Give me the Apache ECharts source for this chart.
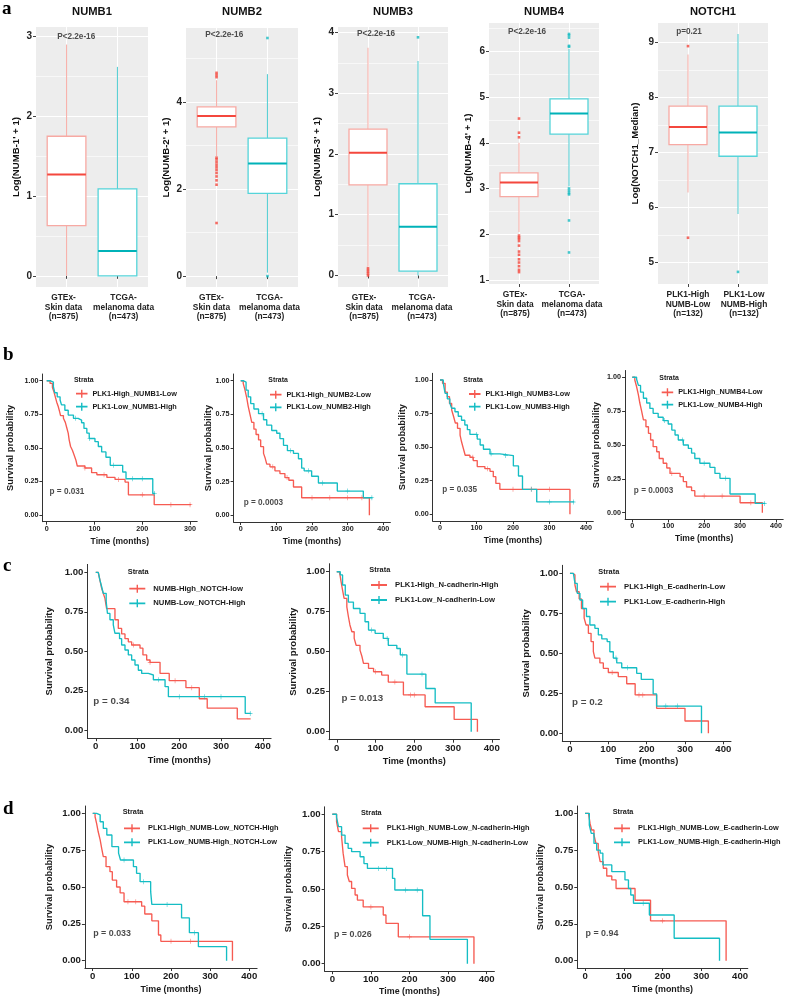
<!DOCTYPE html>
<html><head><meta charset="utf-8">
<script src="https://cdn.jsdelivr.net/npm/echarts@6/dist/echarts.min.js"></script>
<style>html,body{margin:0;padding:0;background:#fff}#c{width:787px;height:999px}</style>
</head><body><div id="c"></div>
<script>
// ================= DATA =================
// Row a: box plots  [lower whisker, Q1, median, Q3, upper whisker]
const groupsGTEx = ['GTEx-\nSkin data\n(n=875)', 'TCGA-\nmelanoma data\n(n=473)'];
const groupsNotch = ['PLK1-High\nNUMB-Low\n(n=132)', 'PLK1-Low\nNUMB-High\n(n=132)'];
const boxTitles = ['NUMB1', 'NUMB2', 'NUMB3', 'NUMB4', 'NOTCH1'];
const boxYNames = ["Log(NUMB-1' + 1)", "Log(NUMB-2' + 1)", "Log(NUMB-3' + 1)", "Log(NUMB-4' + 1)", 'Log(NOTCH1_Median)'];
const boxPText = ['P<2.2e-16', 'P<2.2e-16', 'P<2.2e-16', 'P<2.2e-16', 'p=0.21'];
const numb1Box = [[0, 0.63, 1.27, 1.75, 2.9], [0, 0, 0.31, 1.09, 2.62]];
const numb2Box = [[2.75, 3.43, 3.68, 3.89, 4.5], [0.08, 1.90, 2.59, 3.17, 4.64]];
const numb3Box = [[0.15, 1.49, 2.02, 2.41, 3.75], [0, 0.07, 0.80, 1.51, 3.53]];
const numb4Box = [[2.05, 2.82, 3.13, 3.34, 4.0], [3.05, 4.19, 4.64, 4.96, 6.05]];
const notch1Box = [[6.27, 7.14, 7.46, 7.84, 8.78], [5.88, 6.93, 7.36, 7.84, 9.15]];
const numb1Out = [[], []];
const numb2Out = [[4.57, 4.62, 4.67, 2.72, 2.68, 2.62, 2.56, 2.5, 2.44, 2.37, 2.29, 2.2, 2.1, 1.22], [0, 5.47]];
const numb3Out = [[0, 0.03, 0.06, 0.09, 0.12], [3.92]];
const numb4Out = [[4.12, 4.22, 4.53, 1.97, 1.93, 1.9, 1.85, 1.75, 1.62, 1.55, 1.45, 1.38, 1.3, 1.22, 1.17],
                  [6.1, 6.12, 6.3, 6.35, 6.38, 3.0, 2.95, 2.9, 2.87, 2.3, 1.6]];
const notch1Out = [[8.93, 5.45], [4.83]];
const numb1Ticks = [0, 1, 2, 3];
const numb2Ticks = [0, 2, 4];
const numb3Ticks = [0, 1, 2, 3, 4];
const numb4Ticks = [1, 2, 3, 4, 5, 6];
const notch1Ticks = [5, 6, 7, 8, 9];

// Rows b-d: Kaplan-Meier curves  [time (months), survival probability]
const kmTimeTicks300 = [0, 100, 200, 300];
const kmTimeTicks400 = [0, 100, 200, 300, 400];
const kmProbTicks = [0, 0.25, 0.5, 0.75, 1];

const b1Strata = ['PLK1-High_NUMB1-Low', 'PLK1-Low_NUMB1-High'];
const b2Strata = ['PLK1-High_NUMB2-Low', 'PLK1-Low_NUMB2-High'];
const b3Strata = ['PLK1-High_NUMB3-Low', 'PLK1-Low_NUMB3-High'];
const b4Strata = ['PLK1-High_NUMB4-Low', 'PLK1-Low_NUMB4-High'];
const c1Strata = ['NUMB-High_NOTCH-low', 'NUMB-Low_NOTCH-High'];
const c2Strata = ['PLK1-High_N-cadherin-High', 'PLK1-Low_N-cadherin-Low'];
const c3Strata = ['PLK1-High_E-cadherin-Low', 'PLK1-Low_E-cadherin-High'];
const d1Strata = ['PLK1-High_NUMB-Low_NOTCH-High', 'PLK1-Low_NUMB-High_NOTCH-Low'];
const d2Strata = ['PLK1-High_NUMB-Low_N-cadherin-High', 'PLK1-Low_NUMB-High_N-cadherin-Low'];
const d3Strata = ['PLK1-High_NUMB-Low_E-cadherin-Low', 'PLK1-Low_NUMB-High_E-cadherin-High'];
const kmPValues = ['p = 0.031', 'p = 0.0003', 'p = 0.035', 'p = 0.0003', 'p = 0.34', 'p = 0.013', 'p = 0.2', 'p = 0.033', 'p = 0.026', 'p = 0.94'];

const b1Red = [[0,1],[7,0.98],[12,0.95],[15,0.92],[18,0.88],[21,0.84],[24,0.81],[27,0.77],[29,0.74],[35,0.72],[39,0.69],[42,0.65],[45,0.61],[47,0.56],[50,0.51],[54,0.48],[57,0.45],[61,0.41],[64,0.365],[80,0.35],[94,0.315],[105,0.30],[126,0.28],[143,0.265],[164,0.245],[171,0.15],[225,0.077],[302,0.077]];
const b1Cyan = [[0,1],[7,0.99],[14,0.955],[17,0.91],[22,0.88],[28,0.856],[31,0.82],[38,0.78],[45,0.744],[56,0.72],[66,0.707],[73,0.687],[78,0.645],[84,0.61],[89,0.57],[101,0.546],[108,0.51],[115,0.47],[124,0.43],[133,0.37],[159,0.32],[166,0.27],[222,0.16],[227,0.16]];
const b2Red = [[0,1],[7,0.98],[12,0.93],[17,0.87],[21,0.81],[26,0.75],[31,0.69],[37,0.64],[43,0.60],[50,0.56],[56,0.51],[64,0.46],[68,0.43],[73,0.38],[82,0.36],[96,0.33],[110,0.31],[124,0.28],[135,0.26],[148,0.21],[171,0.13],[361,0]];
const b2Cyan = [[0,1],[7,0.99],[15,0.93],[21,0.88],[28,0.83],[37,0.79],[50,0.755],[64,0.71],[73,0.67],[87,0.63],[101,0.61],[110,0.57],[120,0.52],[131,0.48],[148,0.46],[162,0.42],[171,0.35],[178,0.33],[199,0.29],[218,0.24],[271,0.18],[344,0.13],[370,0.13]];
const b3Red = [[0,1],[7,0.975],[14,0.91],[20,0.876],[26,0.826],[32,0.777],[37,0.73],[42,0.68],[48,0.64],[55,0.59],[59,0.54],[64,0.49],[69,0.44],[82,0.425],[91,0.40],[102,0.355],[123,0.34],[137,0.32],[146,0.28],[153,0.23],[164,0.186],[356,0]];
const b3Cyan = [[0,1],[9,0.975],[14,0.90],[20,0.86],[27,0.826],[32,0.79],[41,0.764],[50,0.73],[59,0.70],[68,0.665],[75,0.63],[82,0.595],[102,0.56],[110,0.516],[119,0.484],[137,0.45],[164,0.437],[201,0.36],[215,0.285],[226,0.186],[265,0.092],[368,0.092]];
const b4Red = [[0,1],[7,0.98],[12,0.93],[17,0.87],[21,0.81],[26,0.75],[31,0.685],[38,0.635],[45,0.586],[51,0.537],[58,0.488],[68,0.45],[75,0.40],[86,0.365],[96,0.33],[105,0.29],[133,0.266],[142,0.23],[151,0.19],[165,0.163],[174,0.123],[300,0.074],[362,0]];
const b4Cyan = [[0,1],[12,0.985],[17,0.94],[23,0.89],[31,0.845],[40,0.81],[49,0.77],[58,0.734],[72,0.705],[86,0.68],[100,0.655],[110,0.61],[119,0.574],[128,0.537],[142,0.50],[156,0.475],[165,0.44],[174,0.40],[188,0.365],[216,0.335],[230,0.29],[244,0.254],[272,0.138],[342,0.069],[370,0.069]];
const c1Red = [[0,1],[6,0.99],[10,0.95],[14,0.90],[18,0.867],[22,0.835],[26,0.77],[46,0.70],[54,0.645],[62,0.61],[70,0.58],[78,0.56],[86,0.54],[106,0.52],[113,0.477],[122,0.445],[130,0.43],[154,0.36],[176,0.314],[216,0.27],[248,0.20],[267,0.14],[339,0.072],[371,0.072]];
const c1Cyan = [[0,1],[6,0.99],[10,0.95],[14,0.91],[18,0.867],[25,0.815],[28,0.74],[34,0.70],[42,0.667],[46,0.614],[57,0.58],[62,0.54],[70,0.508],[78,0.477],[86,0.445],[94,0.413],[102,0.38],[110,0.36],[126,0.35],[138,0.32],[166,0.276],[174,0.213],[358,0.107],[371,0.107]];
const c2Red = [[0,1],[7,0.99],[11,0.94],[15,0.885],[19,0.833],[26,0.78],[30,0.72],[34,0.667],[39,0.625],[45,0.583],[50,0.54],[60,0.51],[65,0.47],[69,0.427],[82,0.396],[95,0.375],[116,0.354],[133,0.31],[172,0.23],[228,0.156],[303,0.077],[363,0]];
const c2Cyan = [[0,1],[9,0.98],[15,0.917],[22,0.854],[30,0.81],[43,0.77],[60,0.74],[73,0.687],[82,0.635],[99,0.615],[120,0.583],[133,0.54],[155,0.52],[164,0.48],[181,0.36],[230,0.27],[254,0.18],[347,0]];
const c3Red = [[0,1],[7,0.99],[13,0.927],[17,0.885],[24,0.84],[30,0.78],[37,0.72],[42,0.677],[48,0.625],[55,0.573],[61,0.51],[65,0.47],[78,0.44],[87,0.406],[100,0.38],[126,0.354],[148,0.31],[170,0.24],[226,0.156],[300,0.077],[361,0]];
const c3Cyan = [[0,1],[9,0.99],[13,0.937],[19,0.875],[26,0.833],[33,0.78],[43,0.73],[52,0.677],[65,0.656],[74,0.615],[83,0.59],[97,0.573],[104,0.51],[113,0.47],[122,0.44],[135,0.41],[174,0.375],[186,0.337],[217,0.246],[226,0.17],[343,0]];
const d1Red = [[0,1],[6,0.977],[10,0.93],[14,0.875],[19,0.82],[23,0.76],[27,0.706],[34,0.638],[44,0.604],[50,0.547],[61,0.50],[70,0.46],[80,0.40],[125,0.37],[133,0.317],[151,0.27],[168,0.174],[174,0.131],[357,0]];
const d1Cyan = [[0,1],[10,0.99],[19,0.943],[27,0.898],[36,0.853],[49,0.774],[66,0.73],[71,0.683],[104,0.638],[112,0.593],[121,0.536],[148,0.47],[151,0.382],[227,0.29],[247,0.19],[270,0.095],[342,0]];
const d2Red = [[0,1],[11,0.95],[16,0.884],[24,0.85],[28,0.74],[33,0.65],[39,0.594],[44,0.55],[50,0.504],[59,0.46],[65,0.426],[80,0.38],[132,0.326],[139,0.27],[171,0.18],[367,0]];
const d2Cyan = [[0,1],[11,0.98],[16,0.917],[24,0.86],[33,0.805],[41,0.772],[50,0.75],[72,0.716],[82,0.67],[91,0.638],[156,0.571],[162,0.493],[234,0.321],[253,0.163],[350,0]];
const d3Red = [[0,1],[9,0.99],[13,0.93],[17,0.887],[23,0.853],[28,0.796],[34,0.74],[39,0.672],[47,0.627],[56,0.575],[69,0.548],[80,0.49],[129,0.41],[169,0.27],[364,0]];
const d3Cyan = [[0,1],[11,0.92],[16,0.864],[23,0.796],[30,0.75],[39,0.73],[46,0.65],[69,0.604],[103,0.548],[112,0.49],[118,0.446],[125,0.39],[166,0.31],[230,0.152],[347,0]];

// censoring times (months)
const b1RedCensor = [80, 120, 150, 200, 260, 300];
const b1CyanCensor = [60, 90, 140, 180, 200, 226];
const b2RedCensor = [90, 130, 200, 250, 300, 340];
const b2CyanCensor = [60, 140, 190, 230, 300, 368];
const b3RedCensor = [90, 130, 200, 250, 300];
const b3CyanCensor = [100, 140, 180, 250, 300, 366];
const b4RedCensor = [110, 200, 250, 330];
const b4CyanCensor = [90, 140, 200, 260, 368];
const c1RedCensor = [90, 130, 190, 230];
const c1CyanCensor = [150, 200, 260, 300, 370];
const c2RedCensor = [100, 150, 190, 200];
const c2CyanCensor = [90, 130, 170, 220];
const c3RedCensor = [110, 180, 190];
const c3CyanCensor = [120, 150, 250, 280];
const d1RedCensor = [90, 110, 200, 250];
const d1CyanCensor = [80, 130, 190, 260];
const d2RedCensor = [100, 200];
const d2CyanCensor = [120, 140, 190, 220];
const d3RedCensor = [200];
const d3CyanCensor = [150];

// ================= STYLE / LAYOUT =================
const FONT = "'Liberation Sans', Arial, Helvetica, sans-serif";
const SERIF = "'Liberation Serif', 'Times New Roman', serif";
const TXT = '#1a1a1a';
const BOXCOL = [
  {line: '#F7A9A3', whisk: '#F8B2AC', med: '#F4473D', out: '#F4473D'},
  {line: '#55D4D9', whisk: '#5BD0D5', med: '#00B2B8', out: '#18BCC2'}
];
const KMRED = '#F65B52', KMCYAN = '#15BDC4';
const PLUS = 'path://M0,4.4H9V5.6H0Z M3.9,0H5.1V10H3.9Z';
function legendIcon(w) {
  const c = w / 2;
  return 'path://M0,3.1H' + w + 'V4.9H0Z M' + (c - 0.7) + ',0H' + (c + 0.7) + 'V8H' + (c - 0.7) + 'Z';
}

// labelAt: where each category label is centred (label placement, slightly off the ticks as in the figure)
const BOX = [
  {grid: {left: 36, top: 27, width: 112, height: 260}, stats: numb1Box, out: numb1Out, cats: groupsGTEx, title: boxTitles[0], yName: boxYNames[0], ticks: numb1Ticks, range: [-0.14, 3.12], split: 3, p: boxPText[0], pAt: [1.19, 3.0], nameGap: 15, labelAt: [0.94, 2.12]},
  {grid: {left: 186, top: 28, width: 112, height: 259}, stats: numb2Box, out: numb2Out, cats: groupsGTEx, title: boxTitles[1], yName: boxYNames[1], ticks: numb2Ticks, range: [-0.25, 5.70], split: 3, p: boxPText[1], pAt: [1.15, 5.55], nameGap: 15, labelAt: [0.9, 2.04]},
  {grid: {left: 338, top: 27, width: 110, height: 260}, stats: numb3Box, out: numb3Out, cats: groupsGTEx, title: boxTitles[2], yName: boxYNames[2], ticks: numb3Ticks, range: [-0.19, 4.09], split: 4, p: boxPText[2], pAt: [1.16, 3.98], nameGap: 16, labelAt: [0.92, 2.08]},
  {grid: {left: 489, top: 23, width: 110, height: 261}, stats: numb4Box, out: numb4Out, cats: groupsGTEx, title: boxTitles[3], yName: boxYNames[3], ticks: numb4Ticks, range: [0.91, 6.62], split: 5, p: boxPText[3], pAt: [1.16, 6.43], nameGap: 16, labelAt: [0.92, 2.06]},
  {grid: {left: 658, top: 23, width: 110, height: 261}, stats: notch1Box, out: notch1Out, cats: groupsNotch, title: boxTitles[4], yName: boxYNames[4], ticks: notch1Ticks, range: [4.61, 9.35], split: 4, p: boxPText[4], pAt: [1.02, 9.19], nameGap: 18, labelAt: [1.0, 2.12]}
];

const ROW = {
  b: {font: FONT, tick: 7.2, yName: 9.3, xName: 8.5, legend: 7.3, strata: 6.9, p: 8.2, iw: 11.5},
  c: {font: FONT, tick: 9.6, yName: 9.5, xName: 9.2, legend: 7.7, strata: 7.4, p: 9.8, iw: 16},
  d: {font: FONT, tick: 9.6, yName: 9.3, xName: 8.9, legend: 7.4, strata: 7.3, p: 8.9, iw: 16}
};

const KM = [
  {row: 'b', grid: {left: 42.4, top: 374, width: 154.8, height: 147.7}, x: [-9, 315], xs: 3, xt: kmTimeTicks300, curves: [b1Red, b1Cyan], cens: [b1RedCensor, b1CyanCensor], names: b1Strata, p: kmPValues[0], pAt: [5, 0.173], yGap: 27.5, xGap: 15, leg: [76, 393.7, 13]},
  {row: 'b', grid: {left: 233.6, top: 374, width: 156.8, height: 148}, x: [-20, 420], xs: 4, xt: kmTimeTicks400, curves: [b2Red, b2Cyan], cens: [b2RedCensor, b2CyanCensor], names: b2Strata, p: kmPValues[1], pAt: [7, 0.09], yGap: 21, xGap: 15, leg: [270, 394.7, 12.6]},
  {row: 'b', grid: {left: 432.7, top: 373.3, width: 160.6, height: 147.7}, x: [-20, 420], xs: 4, xt: kmTimeTicks400, curves: [b3Red, b3Cyan], cens: [b3RedCensor, b3CyanCensor], names: b3Strata, p: kmPValues[2], pAt: [5, 0.18], yGap: 26, xGap: 15, leg: [469, 394, 12.7]},
  {row: 'b', grid: {left: 625.1, top: 370.5, width: 158.1, height: 149}, x: [-20, 420], xs: 4, xt: kmTimeTicks400, curves: [b4Red, b4Cyan], cens: [b4RedCensor, b4CyanCensor], names: b4Strata, p: kmPValues[3], pAt: [3, 0.16], yGap: 24, xGap: 15, leg: [661.7, 392.3, 12.4]},
  {row: 'c', grid: {left: 87.4, top: 564.4, width: 183.7, height: 173.8}, x: [-20, 420], xs: 4, xt: kmTimeTicks400, curves: [c1Red, c1Cyan], cens: [c1RedCensor, c1CyanCensor], names: c1Strata, p: kmPValues[4], pAt: [-7, 0.185], yGap: 33, xGap: 17.5, leg: [129.3, 588.7, 14.6]},
  {row: 'c', grid: {left: 329, top: 563.7, width: 170.5, height: 176}, x: [-20, 420], xs: 4, xt: kmTimeTicks400, curves: [c2Red, c2Cyan], cens: [c2RedCensor, c2CyanCensor], names: c2Strata, p: kmPValues[5], pAt: [11, 0.21], yGap: 31, xGap: 17, leg: [371, 585, 15]},
  {row: 'c', grid: {left: 562.3, top: 565.3, width: 168.7, height: 176}, x: [-20, 420], xs: 4, xt: kmTimeTicks400, curves: [c3Red, c3Cyan], cens: [c3RedCensor, c3CyanCensor], names: c3Strata, p: kmPValues[6], pAt: [4, 0.196], yGap: 31, xGap: 15.8, leg: [600, 586.7, 15]},
  {row: 'd', grid: {left: 84.9, top: 806, width: 172.2, height: 162}, x: [-20, 420], xs: 4, xt: kmTimeTicks400, curves: [d1Red, d1Cyan], cens: [d1RedCensor, d1CyanCensor], names: d1Strata, p: kmPValues[7], pAt: [0, 0.186], yGap: 31, xGap: 17.5, leg: [124, 828.3, 14]},
  {row: 'd', grid: {left: 324.6, top: 806.8, width: 169.8, height: 164.4}, x: [-20, 420], xs: 4, xt: kmTimeTicks400, curves: [d2Red, d2Cyan], cens: [d2RedCensor, d2CyanCensor], names: d2Strata, p: kmPValues[8], pAt: [3, 0.197], yGap: 31.6, xGap: 16, leg: [362.7, 828.3, 14.4]},
  {row: 'd', grid: {left: 577.3, top: 806, width: 170.5, height: 162}, x: [-20, 420], xs: 4, xt: kmTimeTicks400, curves: [d3Red, d3Cyan], cens: [d3RedCensor, d3CyanCensor], names: d3Strata, p: kmPValues[9], pAt: [0, 0.186], yGap: 32, xGap: 17.5, leg: [614, 828.3, 14]}
];
const STRATA_POS = [[74, 379.7], [268.3, 380], [463.3, 380], [659.3, 377.7], [127.7, 572.3], [369.3, 570], [598.3, 572.3], [122.7, 812.3], [361, 813.3], [612.7, 812.3]];

// ================= BUILD =================
function stepAt(curve, t) {
  let s = curve[0][1];
  for (const pt of curve) { if (pt[0] <= t) s = pt[1]; else break; }
  return s;
}

const grids = [], xAxes = [], yAxes = [], series = [], legends = [], graphics = [];

function renderBox(params, api) {
  const x = api.value(0);
  const gi = api.value(6);
  const c = BOXCOL[gi];
  const hw = 0.38;
  const pLo = api.coord([x, api.value(1)]);
  const pQ1 = api.coord([x, api.value(2)]);
  const pMd = api.coord([x, api.value(3)]);
  const pQ3 = api.coord([x, api.value(4)]);
  const pHi = api.coord([x, api.value(5)]);
  const xl = api.coord([x - hw, api.value(3)])[0];
  const xr = api.coord([x + hw, api.value(3)])[0];
  return {type: 'group', children: [
    {type: 'line', shape: {x1: pLo[0], y1: pLo[1], x2: pQ1[0], y2: pQ1[1]}, style: {stroke: c.whisk, lineWidth: 1.1}},
    {type: 'line', shape: {x1: pQ3[0], y1: pQ3[1], x2: pHi[0], y2: pHi[1]}, style: {stroke: c.whisk, lineWidth: 1.1}},
    {type: 'rect', shape: {x: xl, y: pQ3[1], width: xr - xl, height: pQ1[1] - pQ3[1]}, style: {fill: '#fff', stroke: c.line, lineWidth: 1.3}},
    {type: 'line', shape: {x1: xl, y1: pMd[1], x2: xr, y2: pMd[1]}, style: {stroke: c.med, lineWidth: 2}}
  ]};
}

BOX.forEach((b, i) => {
  grids.push(Object.assign({show: true, backgroundColor: '#EDEDED', borderWidth: 0, containLabel: false, outerBoundsMode: 'none'}, b.grid));
  xAxes.push({
    gridIndex: i, type: 'value', min: 0.4, max: 2.6, splitNumber: 2,
    axisLine: {show: false},
    axisTick: {show: true, length: 3, customValues: [1, 2], lineStyle: {color: '#444', width: 1}},
    axisLabel: {
      customValues: b.labelAt, showMinLabel: true, showMaxLabel: true, hideOverlap: false,
      formatter: v => b.cats[Math.round(v) - 1] || '',
      fontFamily: FONT, fontSize: 8.4, fontWeight: 'bold', color: '#222', lineHeight: 9.6, margin: 6
    },
    splitLine: {show: true, lineStyle: {color: '#fff', width: 1.1}},
    minorSplitLine: {show: false}
  });
  yAxes.push({
    gridIndex: i, type: 'value', min: b.range[0], max: b.range[1], splitNumber: b.split,
    axisLine: {show: false},
    axisTick: {show: true, length: 3, customValues: b.ticks, lineStyle: {color: '#444', width: 1}},
    axisLabel: {customValues: b.ticks, showMinLabel: true, showMaxLabel: true, fontFamily: FONT, fontSize: 10, fontWeight: 'bold', color: '#222', margin: 4},
    splitLine: {show: true, lineStyle: {color: '#fff', width: 1.1}},
    minorTick: {show: false, splitNumber: 2},
    minorSplitLine: {show: true, lineStyle: {color: '#fff', width: 0.6}},
    name: b.yName, nameLocation: 'middle', nameGap: b.nameGap, nameMoveOverlap: false,
    nameTextStyle: {fontFamily: FONT, fontSize: 9.6, fontWeight: 'bold', color: '#111'}
  });
  series.push({
    type: 'custom', xAxisIndex: i, yAxisIndex: i, renderItem: renderBox, silent: true, z: 3,
    encode: {x: 0, y: [1, 2, 3, 4, 5]},
    data: b.stats.map((s, k) => [k + 1, s[0], s[1], s[2], s[3], s[4], k])
  });
  b.out.forEach((vals, k) => {
    series.push({type: 'scatter', xAxisIndex: i, yAxisIndex: i, silent: true, z: 4,
      symbol: 'rect', symbolSize: 2.6, itemStyle: {color: BOXCOL[k].out},
      data: vals.map(v => [k + 1, v])});
  });
  series.push({type: 'scatter', xAxisIndex: i, yAxisIndex: i, silent: true, z: 5,
    symbolSize: 1, itemStyle: {color: 'rgba(0,0,0,0)'}, data: [b.pAt],
    label: {show: true, position: 'inside', formatter: b.p, fontFamily: FONT, fontSize: 8.2, fontWeight: 'bold', color: '#222', align: 'center', verticalAlign: 'middle'}});
  graphics.push({type: 'text', x: b.grid.left + b.grid.width / 2, y: 12,
    style: {text: b.title, fontFamily: FONT, fontSize: 11.2, fontWeight: 'bold', fill: '#111', textAlign: 'center', textVerticalAlign: 'middle'}});
});

KM.forEach((k, j) => {
  const gi = BOX.length + j;
  const st = ROW[k.row];
  grids.push(Object.assign({show: false, containLabel: false, outerBoundsMode: 'none'}, k.grid));
  xAxes.push({
    gridIndex: gi, type: 'value', min: k.x[0], max: k.x[1], splitNumber: k.xs,
    axisLine: {show: true, onZero: false, lineStyle: {color: '#333', width: 1}},
    axisTick: {show: true, length: 3, customValues: k.xt, lineStyle: {color: '#333', width: 1}},
    axisLabel: {customValues: k.xt, showMinLabel: true, showMaxLabel: true, fontFamily: st.font, fontSize: st.tick, fontWeight: 'bold', color: TXT, margin: 3.5},
    splitLine: {show: false},
    name: 'Time (months)', nameLocation: 'middle', nameGap: k.xGap, nameMoveOverlap: false,
    nameTextStyle: {fontFamily: st.font, fontSize: st.xName, fontWeight: 'bold', color: TXT}
  });
  yAxes.push({
    gridIndex: gi, type: 'value', min: -0.05, max: 1.05, splitNumber: 4,
    axisLine: {show: true, onZero: false, lineStyle: {color: '#333', width: 1}},
    axisTick: {show: true, length: 3, customValues: kmProbTicks, lineStyle: {color: '#333', width: 1}},
    axisLabel: {customValues: kmProbTicks, showMinLabel: true, showMaxLabel: true, formatter: v => v.toFixed(2), fontFamily: st.font, fontSize: st.tick, fontWeight: 'bold', color: TXT, margin: 4},
    splitLine: {show: false},
    name: 'Survival probability', nameLocation: 'middle', nameGap: k.yGap, nameMoveOverlap: false,
    nameTextStyle: {fontFamily: FONT, fontSize: st.yName, fontWeight: 'bold', color: TXT}
  });
  const cols = [KMRED, KMCYAN];
  k.curves.forEach((cv, m) => {
    series.push({type: 'line', name: k.names[m], xAxisIndex: gi, yAxisIndex: gi, data: cv, step: 'end',
      symbol: 'none', showSymbol: false, silent: true, color: cols[m], z: 3 + m,
      lineStyle: {color: cols[m], width: 1.35}, itemStyle: {color: cols[m]}});
    series.push({type: 'scatter', xAxisIndex: gi, yAxisIndex: gi, silent: true, z: 4 + m,
      symbol: PLUS, symbolSize: [4.5, 5], itemStyle: {color: cols[m]},
      data: k.cens[m].map(t => [t, stepAt(cv, t)])});
  });
  series.push({type: 'scatter', xAxisIndex: gi, yAxisIndex: gi, silent: true, z: 6,
    symbolSize: 1, itemStyle: {color: 'rgba(0,0,0,0)'}, data: [k.pAt],
    label: {show: true, position: 'right', distance: 0, formatter: k.p, fontFamily: st.font, fontSize: st.p, fontWeight: 'bold', color: TXT}});
  legends.push({
    data: k.names, orient: 'vertical', left: k.leg[0], top: k.leg[1] - 5, padding: 0,
    itemWidth: st.iw, itemHeight: 8, itemGap: k.leg[2] - 10, selectedMode: false,
    icon: legendIcon(st.iw), itemStyle: {borderWidth: 0},
    textStyle: {fontFamily: st.font, fontSize: st.legend, fontWeight: 'bold', color: TXT, lineHeight: 10, padding: [0, 0, 0, k.row === 'b' ? 0 : 3]}
  });
  graphics.push({type: 'text', x: STRATA_POS[j][0], y: STRATA_POS[j][1],
    style: {text: 'Strata', fontFamily: st.font, fontSize: st.strata, fontWeight: 'bold', fill: TXT, textVerticalAlign: 'middle'}});
});

[['a', 2, 9], ['b', 3, 355], ['c', 3, 566], ['d', 3, 809]].forEach(p => {
  graphics.push({type: 'text', x: p[1], y: p[2],
    style: {text: p[0], fontFamily: SERIF, fontSize: 19, fontWeight: 'bold', fill: '#000', textVerticalAlign: 'middle'}});
});

const chart = echarts.init(document.getElementById('c'), null, {renderer: 'canvas'});
chart.setOption({
  animation: false,
  backgroundColor: '#fff',
  textStyle: {fontFamily: FONT},
  tooltip: {show: false},
  grid: grids, xAxis: xAxes, yAxis: yAxes, legend: legends, series: series,
  graphic: {elements: graphics}
});
</script></body></html>
